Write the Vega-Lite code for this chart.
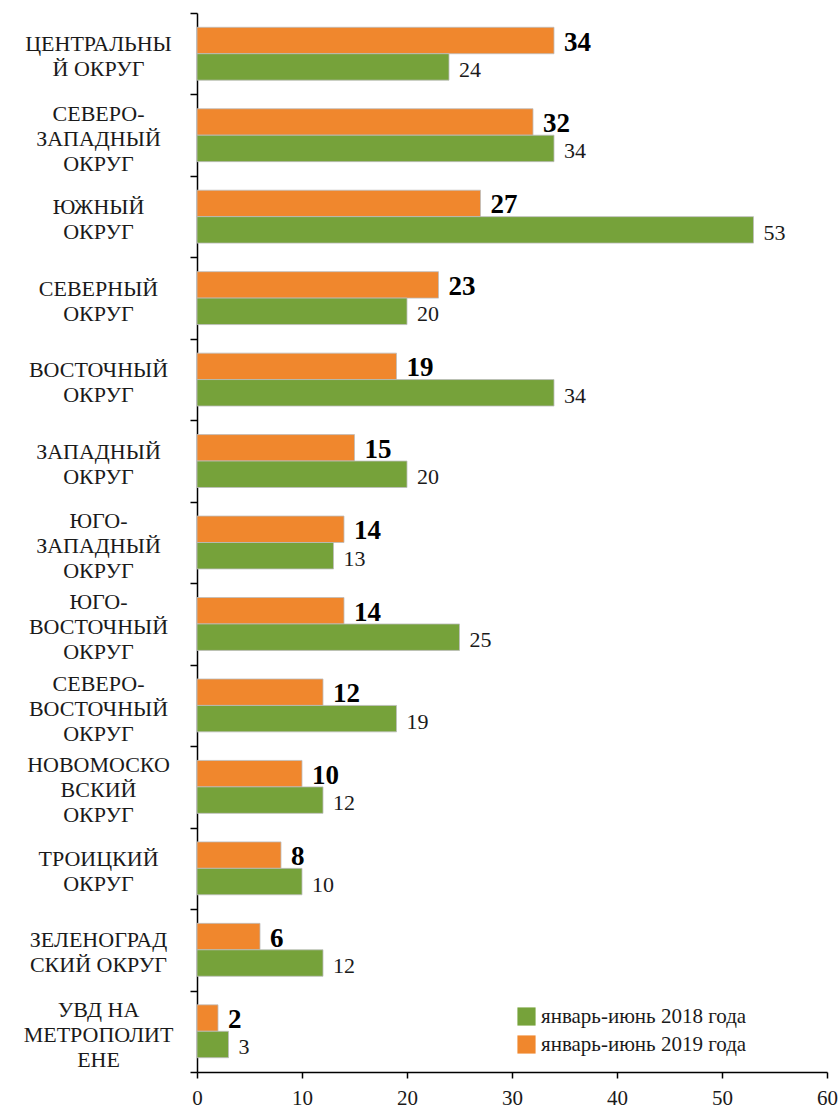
{
  "$schema": "https://vega.github.io/schema/vega-lite/v6.json",
  "width": 630,
  "height": 1059,
  "autosize": {"type": "none"},
  "padding": {"left": 197, "top": 13, "right": 12, "bottom": 40},
  "background": "#ffffff",
  "config": {
    "view": {"stroke": null},
    "font": "Liberation Serif"
  },
  "data": {
    "values": [
      {"region": "ЦЕНТРАЛЬНЫ|Й ОКРУГ", "period": "январь-июнь 2019 года", "value": 34},
      {"region": "ЦЕНТРАЛЬНЫ|Й ОКРУГ", "period": "январь-июнь 2018 года", "value": 24},
      {"region": "СЕВЕРО-|ЗАПАДНЫЙ|ОКРУГ", "period": "январь-июнь 2019 года", "value": 32},
      {"region": "СЕВЕРО-|ЗАПАДНЫЙ|ОКРУГ", "period": "январь-июнь 2018 года", "value": 34},
      {"region": "ЮЖНЫЙ|ОКРУГ", "period": "январь-июнь 2019 года", "value": 27},
      {"region": "ЮЖНЫЙ|ОКРУГ", "period": "январь-июнь 2018 года", "value": 53},
      {"region": "СЕВЕРНЫЙ|ОКРУГ", "period": "январь-июнь 2019 года", "value": 23},
      {"region": "СЕВЕРНЫЙ|ОКРУГ", "period": "январь-июнь 2018 года", "value": 20},
      {"region": "ВОСТОЧНЫЙ|ОКРУГ", "period": "январь-июнь 2019 года", "value": 19},
      {"region": "ВОСТОЧНЫЙ|ОКРУГ", "period": "январь-июнь 2018 года", "value": 34},
      {"region": "ЗАПАДНЫЙ|ОКРУГ", "period": "январь-июнь 2019 года", "value": 15},
      {"region": "ЗАПАДНЫЙ|ОКРУГ", "period": "январь-июнь 2018 года", "value": 20},
      {"region": "ЮГО-|ЗАПАДНЫЙ|ОКРУГ", "period": "январь-июнь 2019 года", "value": 14},
      {"region": "ЮГО-|ЗАПАДНЫЙ|ОКРУГ", "period": "январь-июнь 2018 года", "value": 13},
      {"region": "ЮГО-|ВОСТОЧНЫЙ|ОКРУГ", "period": "январь-июнь 2019 года", "value": 14},
      {"region": "ЮГО-|ВОСТОЧНЫЙ|ОКРУГ", "period": "январь-июнь 2018 года", "value": 25},
      {"region": "СЕВЕРО-|ВОСТОЧНЫЙ|ОКРУГ", "period": "январь-июнь 2019 года", "value": 12},
      {"region": "СЕВЕРО-|ВОСТОЧНЫЙ|ОКРУГ", "period": "январь-июнь 2018 года", "value": 19},
      {"region": "НОВОМОСКО|ВСКИЙ|ОКРУГ", "period": "январь-июнь 2019 года", "value": 10},
      {"region": "НОВОМОСКО|ВСКИЙ|ОКРУГ", "period": "январь-июнь 2018 года", "value": 12},
      {"region": "ТРОИЦКИЙ|ОКРУГ", "period": "январь-июнь 2019 года", "value": 8},
      {"region": "ТРОИЦКИЙ|ОКРУГ", "period": "январь-июнь 2018 года", "value": 10},
      {"region": "ЗЕЛЕНОГРАД|СКИЙ ОКРУГ", "period": "январь-июнь 2019 года", "value": 6},
      {"region": "ЗЕЛЕНОГРАД|СКИЙ ОКРУГ", "period": "январь-июнь 2018 года", "value": 12},
      {"region": "УВД НА|МЕТРОПОЛИТ|ЕНЕ", "period": "январь-июнь 2019 года", "value": 2},
      {"region": "УВД НА|МЕТРОПОЛИТ|ЕНЕ", "period": "январь-июнь 2018 года", "value": 3}
    ]
  },
  "encoding": {
    "y": {
      "field": "region",
      "type": "nominal",
      "sort": null,
      "scale": {"paddingInner": 0, "paddingOuter": 0},
      "axis": {
        "title": null,
        "labelExpr": "split(datum.label, '|')",
        "labelFont": "Liberation Serif",
        "labelAlign": "center",
        "labelBaseline": "middle",
        "labelPadding": 92,
        "labelFontSize": 22,
        "labelLineHeight": 25,
        "labelOffset": {"condition": {"test": "length(split(datum.value, '|')) > 2", "value": -22}, "value": -10},
        "labelColor": "#1a1a1a",
        "labelLimit": 300,
        "tickBand": "extent",
        "tickSize": 7,
        "tickColor": "#000000",
        "tickWidth": 1.5,
        "domainColor": "#000000",
        "domainWidth": 1.5
      }
    },
    "yOffset": {
      "field": "period",
      "type": "nominal",
      "scale": {
        "domain": ["январь-июнь 2019 года", "январь-июнь 2018 года"],
        "paddingInner": 0,
        "paddingOuter": 0.54
      }
    },
    "x": {
      "field": "value",
      "type": "quantitative",
      "scale": {"domain": [0, 60], "nice": false},
      "axis": {
        "title": null,
        "values": [0, 10, 20, 30, 40, 50, 60],
        "grid": false,
        "labelFont": "Liberation Serif",
        "labelFontSize": 21,
        "labelColor": "#1a1a1a",
        "labelFlush": false,
        "labelPadding": 9,
        "tickSize": 6,
        "tickColor": "#000000",
        "tickWidth": 1.5,
        "domainColor": "#000000",
        "domainWidth": 1.5
      }
    }
  },
  "layer": [
    {
      "mark": {"type": "bar", "stroke": "#bdbdbd", "strokeWidth": 0.8},
      "encoding": {
        "color": {
          "field": "period",
          "type": "nominal",
          "scale": {
            "domain": ["январь-июнь 2018 года", "январь-июнь 2019 года"],
            "range": ["#76A23A", "#F0872D"]
          },
          "legend": {
            "orient": "none",
            "legendX": 319,
            "legendY": 993,
            "title": null,
            "padding": 0,
            "symbolType": "square",
            "symbolSize": 330,
            "symbolStrokeWidth": 0,
            "labelFont": "Liberation Serif",
            "labelFontSize": 21,
            "labelColor": "#1a1a1a",
            "labelOffset": 4,
            "rowPadding": 6,
            "labelLimit": 400
          }
        }
      }
    },
    {
      "transform": [{"filter": "datum.period == 'январь-июнь 2019 года'"}],
      "mark": {"type": "text", "font": "Liberation Serif", "align": "left", "baseline": "middle", "dx": 10, "dy": 2, "fontSize": 27, "fontWeight": "bold", "color": "#000000"},
      "encoding": {"text": {"field": "value", "type": "quantitative"}}
    },
    {
      "transform": [{"filter": "datum.period == 'январь-июнь 2018 года'"}],
      "mark": {"type": "text", "font": "Liberation Serif", "align": "left", "baseline": "middle", "dx": 10, "dy": 3, "fontSize": 22, "color": "#1a1a1a"},
      "encoding": {"text": {"field": "value", "type": "quantitative"}}
    }
  ]
}
